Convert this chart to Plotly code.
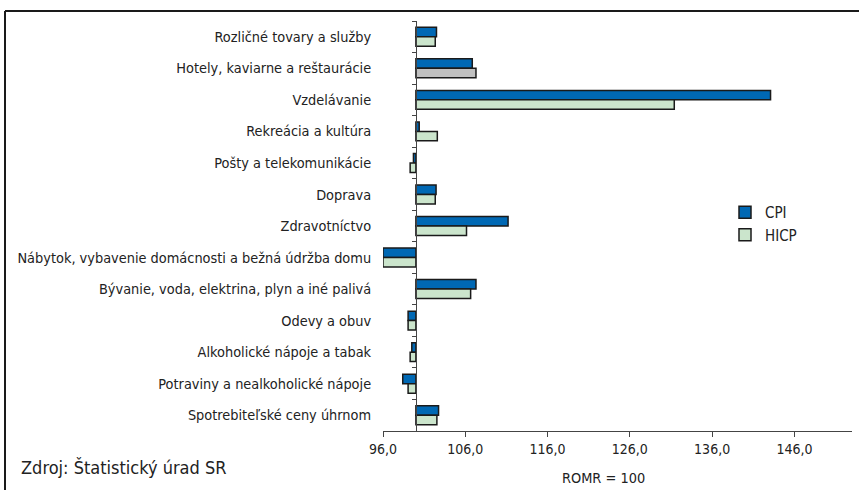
import plotly.graph_objects as go

categories = [
    "Rozličné tovary a služby",
    "Hotely, kaviarne a reštaurácie",
    "Vzdelávanie",
    "Rekreácia a kultúra",
    "Pošty a telekomunikácie",
    "Doprava",
    "Zdravotníctvo",
    "Nábytok, vybavenie domácnosti a bežná údržba domu",
    "Bývanie, voda, elektrina, plyn a iné palivá",
    "Odevy a obuv",
    "Alkoholické nápoje a tabak",
    "Potraviny a nealkoholické nápoje",
    "Spotrebiteľské ceny úhrnom",
]
cpi = [102.5, 106.85, 143.1, 100.4, 99.7, 102.45, 111.2, 96.0, 107.3, 99.05, 99.5, 98.4, 102.75]
hicp = [102.35, 107.3, 131.4, 102.6, 99.3, 102.35, 106.15, 96.0, 106.65, 99.05, 99.3, 99.05, 102.55]
base_value = 100
x_min, x_max = 96, 153
tick_values = [96, 106, 116, 126, 136, 146]

FONT = "Liberation Sans Narrow, Arial Narrow, DejaVu Sans Condensed, sans-serif"
CPI_COLOR = "#0068B4"
HICP_COLOR = "#CBE5CC"
HICP_COLORS = [HICP_COLOR] * len(categories)
HICP_COLORS[1] = "#C0C0C0"
OUTLINE = "#1a1a1a"

fig = go.Figure()
fig.add_trace(go.Bar(
    name="CPI", y=categories, x=[v - base_value for v in cpi], base=base_value,
    orientation="h", marker=dict(color=CPI_COLOR, line=dict(color=OUTLINE, width=1.5)),
))
fig.add_trace(go.Bar(
    name="HICP", y=categories, x=[v - base_value for v in hicp], base=base_value,
    orientation="h", marker=dict(color=HICP_COLORS, line=dict(color=OUTLINE, width=1.5)),
))
# invisible helper trace for the axis line at 100
fig.add_trace(go.Scatter(
    x=[base_value] * len(categories), y=categories, yaxis="y2", mode="markers",
    marker=dict(opacity=0), hoverinfo="skip", showlegend=False,
))

L, R, T, B = 383, 7, 21, 59
W, H = 859, 490
pw, ph = W - L - R, H - T - B

def px_x(p):
    return (p - L) / pw

def px_y(p):
    return (H - B - p) / ph

fig.update_layout(
    width=W, height=H,
    margin=dict(l=L, r=R, t=T, b=B, autoexpand=False),
    paper_bgcolor="white", plot_bgcolor="white",
    separators=", ",
    barmode="group", bargap=0.4, bargroupgap=0,
    font=dict(family=FONT, size=16, color="#222"),
    showlegend=True,
    legend=dict(x=px_x(725), y=px_y(196), xanchor="left", yanchor="top",
                font=dict(size=15), bgcolor="rgba(0,0,0,0)", tracegroupgap=0,
                itemwidth=30),
    xaxis=dict(range=[x_min, x_max], tickvals=tick_values, tickformat=".1f",
               showline=True, linecolor="#444", linewidth=1, ticks="outside",
               ticklen=5, tickcolor="#444", showgrid=False, zeroline=False,
               tickfont=dict(size=14), automargin=False),
    yaxis=dict(type="category", categoryorder="array", categoryarray=categories,
               range=[12.5, -0.5], showline=False, showgrid=False, zeroline=False,
               ticks="outside", ticklen=8, tickcolor="rgba(0,0,0,0)",
               tickfont=dict(size=14.4), automargin=False),
    yaxis2=dict(type="category", categoryorder="array", categoryarray=categories,
                range=[12.5, -0.5], overlaying="y", anchor="free",
                position=(base_value - x_min) / (x_max - x_min),
                showline=True, linecolor="#444", linewidth=1, ticks="outside",
                tickson="boundaries", ticklen=4, tickcolor="#444",
                showticklabels=False, showgrid=False, zeroline=False, automargin=False),
    annotations=[
        dict(text="ROMR = 100", x=px_x(603), y=px_y(478), xref="paper", yref="paper",
             xanchor="center", yanchor="middle", showarrow=False, font=dict(size=14.4)),
        dict(text="Zdroj: Štatistický úrad SR", x=px_x(19), y=px_y(467), xref="paper",
             yref="paper", xanchor="left", yanchor="middle", showarrow=False,
             font=dict(size=18)),
    ],
    shapes=[
        dict(type="line", xref="paper", yref="paper", x0=px_x(5), x1=px_x(870),
             y0=px_y(11), y1=px_y(11), line=dict(color="#1a1a1a", width=2)),
        dict(type="line", xref="paper", yref="paper", x0=px_x(5), x1=px_x(5),
             y0=px_y(11), y1=px_y(500), line=dict(color="#1a1a1a", width=2)),
    ],
)

fig.write_html("out.html", config={"displayModeBar": False},
               post_script="document.body.style.margin='0';")
